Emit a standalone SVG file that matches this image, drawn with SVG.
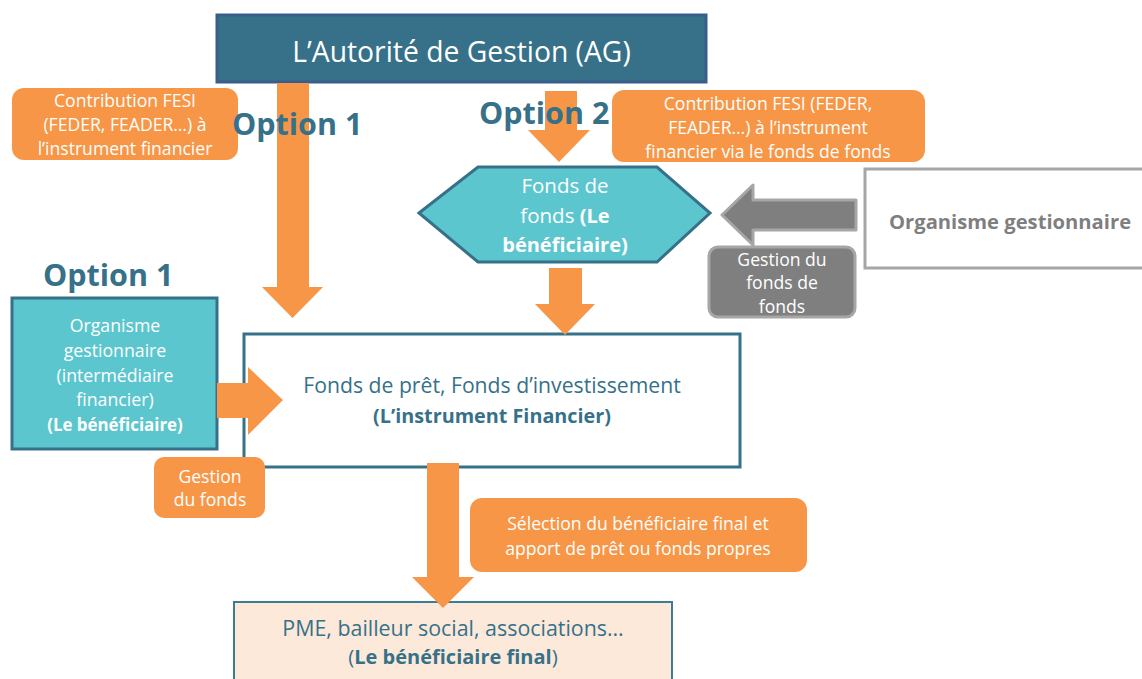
<svg xmlns="http://www.w3.org/2000/svg" width="1142" height="679" viewBox="0 0 1142 679">
<style>
text{font-family:"Open Sans","Liberation Sans",sans-serif;text-anchor:middle}
.lbl{fill:#F79646}
.lt{fill:#ffffff;font-size:17.6px}
.teal{fill:#5CC6CF;stroke:#367189;stroke-width:3}
.tt{fill:#367189}
.b{font-weight:bold}
.opt{font-size:30.5px;font-weight:bold;fill:#367189;text-anchor:start}
.arr{fill:#F79646}
</style>
<rect width="1142" height="679" fill="#ffffff"/>

<g id="ag">
<rect x="217" y="15" width="489" height="67" fill="#367189" stroke="#3A5E8B" stroke-width="3"/>
<text x="461.5" y="62" fill="#ffffff" font-size="28.3">L’Autorité de Gestion (AG)</text>
</g>

<g id="fonds-de-fonds">
<polygon class="teal" points="419,213 478,167 657,167 710,213 657,262 478,262"/>
<text x="565" y="193" fill="#ffffff" font-size="20.5">Fonds de</text>
<text x="565" y="223" fill="#ffffff" font-size="20.5">fonds <tspan class="b" font-size="20">(Le</tspan></text>
<text x="565" y="252" fill="#ffffff" font-size="20" class="b">bénéficiaire)</text>
</g>

<g id="organisme-droite">
<rect x="865" y="169" width="300" height="99" fill="#ffffff" stroke="#A6A6A6" stroke-width="3"/>
<text x="889" y="229" fill="#7F7F7F" font-size="20.2" class="b" style="text-anchor:start">Organisme gestionnaire</text>
</g>

<g id="organisme-gauche">
<rect x="12" y="298" width="205" height="151" class="teal"/>
<g fill="#ffffff" font-size="17.7">
<text x="115" y="332">Organisme</text>
<text x="115" y="357">gestionnaire</text>
<text x="115" y="382">(intermédiaire</text>
<text x="115" y="406">financier)</text>
<text x="115" y="431" class="b" font-size="16.9">(Le bénéficiaire)</text>
</g>
</g>

<g id="instrument">
<rect x="244" y="334" width="496" height="133" fill="#ffffff" stroke="#367189" stroke-width="3"/>
<text x="492" y="393" class="tt" font-size="21.2">Fonds de prêt, Fonds d’investissement</text>
<text x="492" y="423" class="tt b" font-size="19.8">(L’instrument Financier)</text>
</g>

<g id="beneficiaire-final">
<rect x="234" y="602" width="438" height="95" fill="#FDE9DA" stroke="#3A7E96" stroke-width="2"/>
<text x="453" y="636" class="tt" font-size="21.4">PME, bailleur social, associations…</text>
<text x="453" y="664" class="tt" font-size="20.5">(<tspan class="b" font-size="20">Le bénéficiaire final</tspan>)</text>
</g>

<g id="connectors">
<polygon class="arr" points="277,83 309,83 309,287 323,287 292.5,318 262,287 277,287"/>
<polygon class="arr" points="545,91 577,91 577,130 590,130 559,162 528,130 545,130"/>
<polygon class="arr" points="549,268 582,268 582,304 595,304 565,335 535,304 549,304"/>
<polygon points="722,215 753,185 753,200 856,200 856,230 753,230 753,245" fill="#7F7F7F" stroke="#A6A6A6" stroke-width="3" stroke-linejoin="round"/>
<polygon class="arr" points="217,383 248,383 248,367 283,400 248,435 248,418 217,418"/>
<polygon class="arr" points="427,463 459,463 459,577 474,577 443,608 412,577 427,577"/>
</g>

<g id="label-contribution-1">
<rect x="12" y="88" width="226" height="72" rx="12" class="lbl"/>
<text x="125" y="107" class="lt">Contribution FESI</text>
<text x="125" y="131" class="lt">(FEDER, FEADER…) à</text>
<text x="125" y="155" class="lt">l’instrument financier</text>
</g>

<g id="label-contribution-2">
<rect x="612" y="90" width="313" height="72" rx="12" class="lbl"/>
<text x="768" y="110" class="lt">Contribution FESI (FEDER,</text>
<text x="768" y="134" class="lt">FEADER…) à l’instrument</text>
<text x="768" y="158" class="lt">financier via le fonds de fonds</text>
</g>

<g id="label-gestion-ff">
<rect x="709" y="247" width="146" height="70" rx="9" fill="#7F7F7F" stroke="#A6A6A6" stroke-width="3"/>
<text x="782" y="266" class="lt">Gestion du</text>
<text x="782" y="289" class="lt">fonds de</text>
<text x="782" y="313" class="lt">fonds</text>
</g>

<g id="label-gestion-fonds">
<rect x="154" y="457" width="111" height="61" rx="10" class="lbl"/>
<text x="210" y="483" class="lt">Gestion</text>
<text x="210" y="506" class="lt">du fonds</text>
</g>

<g id="label-selection">
<rect x="470" y="498" width="337" height="74" rx="12" class="lbl"/>
<text x="638" y="530" class="lt">Sélection du bénéficiaire final et</text>
<text x="638" y="555" class="lt">apport de prêt ou fonds propres</text>
</g>

<g id="options">
<text x="232" y="135" class="opt">Option 1</text>
<text x="479" y="124" class="opt">Option 2</text>
<text x="43" y="286" class="opt">Option 1</text>
</g>
</svg>
